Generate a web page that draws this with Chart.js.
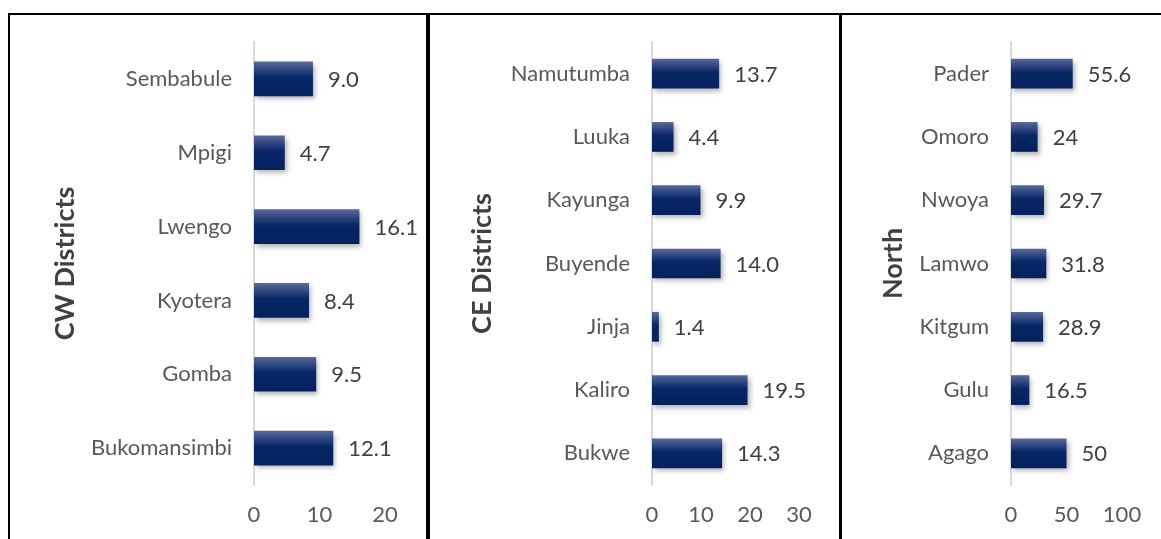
<!DOCTYPE html>
<html>
<head>
<meta charset="utf-8">
<script src="https://cdn.jsdelivr.net/npm/chart.js@4.4.0/dist/chart.umd.min.js"></script>
<style>
   body { margin: 0; background: #fff; width: 1161px; height: 539px; overflow: hidden; position: relative; }
   .panel { position: absolute; top: 15px; height: 524px; }
   .line { position: absolute; background: #000; }
</style>
</head>
<body>
<div class="line" style="left:8px;top:13px;width:1153px;height:2px"></div>
<div class="line" style="left:8px;top:13px;width:2px;height:526px"></div>
<div class="line" style="left:426px;top:13px;width:4px;height:526px"></div>
<div class="line" style="left:839px;top:13px;width:3px;height:526px"></div>
<div class="panel" style="left:10px;width:416px"><canvas id="cw"></canvas></div>
<div class="panel" style="left:430px;width:409px"><canvas id="ce"></canvas></div>
<div class="panel" style="left:842px;width:319px"><canvas id="north"></canvas></div>
<script>
const cwDistricts = ["Sembabule", "Mpigi", "Lwengo", "Kyotera", "Gomba", "Bukomansimbi"]
const cwValues = [9.0, 4.7, 16.1, 8.4, 9.5, 12.1]

const ceDistricts = ["Namutumba", "Luuka", "Kayunga", "Buyende", "Jinja", "Kaliro", "Bukwe"]
const ceValues = [13.7, 4.4, 9.9, 14.0, 1.4, 19.5, 14.3]

const northDistricts = ["Pader", "Omoro", "Nwoya", "Lamwo", "Kitgum", "Gulu", "Agago"]
const northValues = [55.6, 24, 29.7, 31.8, 28.9, 16.5, 50]

const FONT = "Lato, 'Open Sans', sans-serif"
const TXT = 22
const BAR_PCT = 0.47

// тень под столбиками + подписи значений
const labelPlugin = {
   id: "valueLabels",
   beforeDatasetsDraw(chart) {
      const ctx = chart.ctx
      ctx.save()
      ctx.shadowColor = "rgba(0,0,0,0.3)"
      ctx.shadowBlur = 5
      ctx.shadowOffsetX = 2
      ctx.shadowOffsetY = 3
   },
   afterDatasetsDraw(chart, args, opts) {
      const ctx = chart.ctx
      ctx.restore()
      const meta = chart.getDatasetMeta(0)
      const values = chart.data.datasets[0].data
      ctx.save()
      ctx.font = TXT + "px " + FONT
      ctx.fillStyle = "#404040"
      ctx.textAlign = "left"
      ctx.textBaseline = "middle"
      meta.data.forEach((el, i) => {
         const v = values[i]
         const txt = opts.decimals ? v.toFixed(1) : String(v)
         ctx.fillText(txt, el.x + 15, el.y + 1)
      })
      ctx.restore()
   }
}

function barFill(context) {
   const chart = context.chart
   const ySc = chart.scales.y
   if (!ySc || !chart.chartArea || context.dataIndex === undefined) return "#0a2a6e"
   const n = chart.data.labels.length
   const step = (ySc.bottom - ySc.top) / n
   const cy = ySc.getPixelForValue(context.dataIndex)
   const h = step * BAR_PCT
   if (!isFinite(cy) || !isFinite(h)) return "#0a2a6e"
   const g = chart.ctx.createLinearGradient(0, cy - h / 2, 0, cy + h / 2)
   g.addColorStop(0, "#5a699d")
   g.addColorStop(0.45, "#072766")
   g.addColorStop(1, "#04215f")
   return g
}

function drawPanel(id, labels, values, title, max, step, opt) {
   return new Chart(document.getElementById(id), {
      type: "bar",
      data: {
         labels: labels,
         datasets: [{
            data: values,
            backgroundColor: barFill,
            barPercentage: BAR_PCT,
            categoryPercentage: 1
         }]
      },
      plugins: [labelPlugin],
      options: {
         indexAxis: "y",
         responsive: true,
         maintainAspectRatio: false,
         animation: false,
         layout: {
            padding: { left: opt.padLeft, right: opt.padRight, top: 27, bottom: 0 }
         },
         plugins: {
            legend: { display: false },
            tooltip: { enabled: false },
            valueLabels: { decimals: opt.decimals }
         },
         scales: {
            x: {
               min: 0,
               max: max,
               ticks: {
                  stepSize: step,
                  padding: 17,
                  color: "#595959",
                  font: { family: FONT, size: TXT }
               },
               grid: { display: false, drawTicks: false },
               border: { display: false },
               afterFit(scale) {
                  scale.height = 54
                  scale.paddingLeft = 0
                  scale.paddingRight = 0
               }
            },
            y: {
               ticks: {
                  padding: 22,
                  color: "#595959",
                  font: { family: FONT, size: TXT }
               },
               grid: { display: false, drawTicks: false },
               border: { color: "#d9d9d9", width: 2 },
               title: {
                  display: true,
                  text: title,
                  color: "#404040",
                  font: { family: FONT, size: 27, weight: "bold" },
                  padding: { top: 4, bottom: 4 }
               },
               afterFit(scale) {
                  scale.width = opt.yWidth
                  scale.paddingTop = 0
                  scale.paddingBottom = 0
               }
            }
         }
      }
   })
}

drawPanel("cw", cwDistricts, cwValues, "CW Districts", 20, 10,
   { padLeft: 35, padRight: 41, yWidth: 209, decimals: true })
drawPanel("ce", ceDistricts, ceValues, "CE Districts", 30, 10,
   { padLeft: 32, padRight: 40, yWidth: 190, decimals: true })
drawPanel("north", northDistricts, northValues, "North", 100, 50,
   { padLeft: 31, padRight: 39, yWidth: 138, decimals: false })
</script>
</body>
</html>
